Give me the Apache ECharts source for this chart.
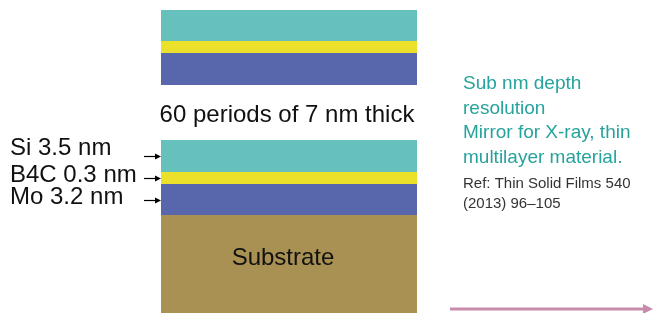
<!DOCTYPE html>
<html>
<head>
<meta charset="utf-8">
<script src="https://cdn.jsdelivr.net/npm/echarts@6/dist/echarts.min.js"></script>
<style>
  html, body { margin: 0; padding: 0; background: #fff; }
  #chart { width: 653px; height: 313px; }
</style>
</head>
<body>
<div id="chart"></div>
<script>
// layer stack, top to bottom, thickness as drawn in the schematic
const layerNames = ['Si', 'B4C', 'Mo', 'gap', 'Si', 'B4C', 'Mo', 'Substrate']
const layerDrawn = [31, 12, 32, 55, 32, 12, 31, 98]
const layerColors = ['#66c1bc', '#ebe12b', '#5866ab', 'transparent', '#66c1bc', '#ebe12b', '#5866ab', '#a89152']

// labelled layers of one period (index into the stack)
const labelledIdx = [4, 5, 6]
const labelTexts = ['Si 3.5 nm', 'B4C 0.3 nm', 'Mo 3.2 nm']
const labelNudge = [-8, -3, -2]

const gapText = '60 periods of 7 nm thick'
const noteLines = ['Sub nm depth', 'resolution', 'Mirror for X-ray, thin', 'multilayer material.']
const refLines = ['Ref: Thin Solid Films 540', '(2013) 96\u2013105']

const FONT = 'Liberation Sans, Arial, sans-serif'

const chart = echarts.init(document.getElementById('chart'))

// cumulative depth where each layer starts
const starts = []
let acc = 0
layerDrawn.forEach(v => { starts.push(acc); acc += v })
const total = acc

const barSeries = layerDrawn.map((v, i) => {
  const s = {
    name: layerNames[i] + '_' + i,
    type: 'bar',
    stack: 'layers',
    barWidth: '100%',
    data: [v],
    itemStyle: { color: layerColors[i] },
    silent: true
  }
  if (layerNames[i] === 'gap') {
    s.label = { show: true, position: 'inside', offset: [-2, 3], formatter: gapText, color: '#111', fontSize: 24, fontFamily: FONT }
  }
  if (layerNames[i] === 'Substrate') {
    s.label = { show: true, position: 'inside', offset: [-6, -6], formatter: 'Substrate', color: '#111', fontSize: 24, fontFamily: FONT }
  }
  return s
})

const annoData = labelledIdx.map((idx, k) => [0, starts[idx] + layerDrawn[idx] / 2, k])

const annoSeries = {
  type: 'custom',
  silent: true,
  data: annoData,
  renderItem: function (params, api) {
    const p = api.coord([api.value(0), api.value(1)])
    const k = api.value(2)
    const left = p[0] - api.size([1, 0])[0] / 2
    const y = Math.round(p[1]) + 0.5
    return {
      type: 'group',
      children: [
        { type: 'line', shape: { x1: left - 17, y1: y, x2: left - 4, y2: y }, style: { stroke: '#000', lineWidth: 1.2 } },
        { type: 'polygon', shape: { points: [[left, y], [left - 6, y - 3], [left - 6, y + 3]] }, style: { fill: '#000' } },
        {
          type: 'text',
          x: left - 151,
          y: p[1] + labelNudge[k],
          style: { text: labelTexts[k], fontSize: 24, fontFamily: FONT, fill: '#111', verticalAlign: 'middle', align: 'left' }
        }
      ]
    }
  }
}

const option = {
  animation: false,
  grid: { left: 161, right: 236, top: 10, bottom: 0 },
  xAxis: { type: 'category', data: ['stack'], show: false },
  yAxis: { type: 'value', inverse: true, min: 0, max: total, show: false, splitLine: { show: false } },
  title: [
    {
      left: 463, top: 72,
      text: noteLines.join('\n'),
      textStyle: { color: '#27a39e', fontSize: 19, fontWeight: 'normal', fontFamily: FONT, lineHeight: 24.5 },
      padding: 0
    },
    {
      left: 463, top: 174,
      text: refLines.join('\n'),
      textStyle: { color: '#333', fontSize: 15, fontWeight: 'normal', fontFamily: FONT, lineHeight: 20 },
      padding: 0
    }
  ],
  graphic: [
    { type: 'line', shape: { x1: 450, y1: 309, x2: 645, y2: 309 }, style: { stroke: '#c98bab', lineWidth: 3 } },
    { type: 'polygon', shape: { points: [[653, 309], [643, 304], [643, 314]] }, style: { fill: '#c98bab' } }
  ],
  series: barSeries.concat([annoSeries])
}

chart.setOption(option)
</script>
</body>
</html>
